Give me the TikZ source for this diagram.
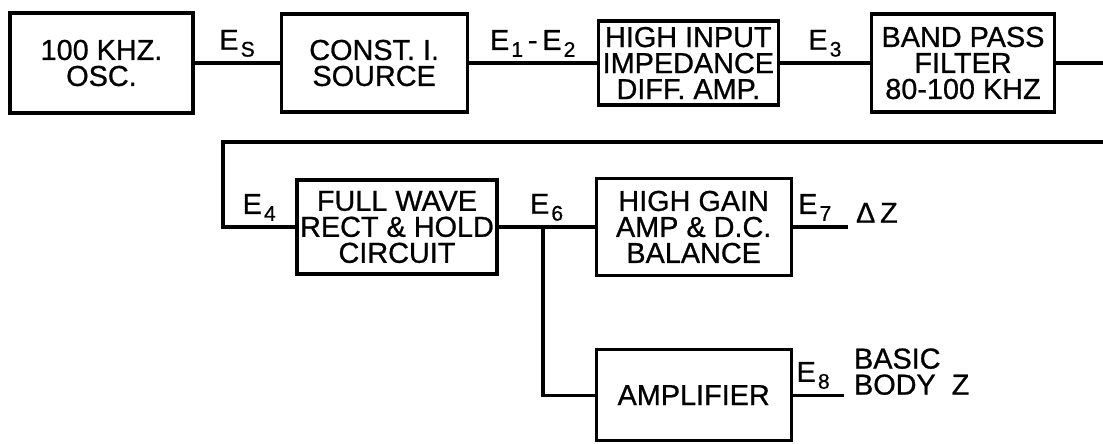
\documentclass[tikz,border=0pt]{standalone}
\usepackage{fontspec}
\setmainfont{Liberation Sans}[FakeBold=0.8]
\usetikzlibrary{positioning}
\newcommand{\lsub}[1]{\kern1.5pt\raisebox{-0.45ex}{\fontsize{15}{15}\selectfont #1}}

\begin{document}
\begin{tikzpicture}[
    x=0.025cm, y=-0.025cm,
    every node/.style={font=\fontsize{20.5}{18.5}\selectfont},
    blk/.style={rectangle, draw, line width=2.2pt, align=center, inner sep=1pt},
    wire/.style={line width=2.2pt},
]
    \useasboundingbox (0,0) rectangle (1103,444);
    % top row
    \node[blk, minimum width=45.75mm, minimum height=25mm] (osc) at (101.5,63)
        {100 KHZ.\\OSC.};
    \node[blk, minimum width=46.5mm, minimum height=24.5mm,
          right=21.25mm of osc] (src)
        {CONST. I.\\SOURCE};
    \node[blk, minimum width=45mm, minimum height=21mm,
          right=32mm of src] (diff)
        {HIGH INPUT\\IMPEDANCE\\DIFF. AMP.};
    \node[blk, minimum width=45.75mm, minimum height=24.5mm,
          right=22.5mm of diff] (bpf)
        {BAND PASS\\FILTER\\80-100 KHZ};
    \draw[wire] (osc) -- node[above]{E\lsub{S}} (src);
    \draw[wire] (src) -- node[above]{E\lsub{1}\,-\,E\lsub{2}} (diff);
    \draw[wire] (diff) -- node[above]{E\lsub{3}} (bpf);
    % return line
    \coordinate (r1) at (1103,63);
    \coordinate (r2) at (1103,142);
    \coordinate (r3) at (223,142);
    \draw[wire] (bpf) -- (r1);
    % second row
    \node[blk, minimum width=50mm, minimum height=23.5mm] (rect) at (397,227)
        {FULL WAVE\\RECT \& HOLD\\CIRCUIT};
    \node[blk, minimum width=48.75mm, minimum height=24.25mm,
          right=24mm of rect] (hgain)
        {HIGH GAIN\\AMP \& D.C.\\BALANCE};
    \node[blk, minimum width=48.75mm, minimum height=22.75mm,
          below=17.75mm of hgain] (amp)
        {AMPLIFIER};
    \draw[wire] (r2) -- (r3) |- node[pos=0.75, above]{E\lsub{4}} (rect.west);
    \draw[wire] (rect) -- node[above]{E\lsub{6}} (hgain);
    \coordinate (jn) at (543,227);
    \draw[wire] (jn) |- (amp.west);
    % outputs
    \coordinate[right=13.75mm of hgain.east] (o7);
    \coordinate[right=12.75mm of amp.east] (o8);
    \draw[wire] (hgain.east) -- node[above, pos=0.4]{E\lsub{7}} (o7);
    \draw[wire] (amp.east) -- node[above, pos=0.4]{E\lsub{8}} (o8);
    \node[inner sep=0, anchor=south west] (dz) at ([xshift=2mm, yshift=1mm]o7)
        {Δ\,Z};
    \node[inner sep=0, anchor=south west, align=left] (bz) at ([xshift=2.5mm]o8)
        {BASIC\\BODY\ \ Z};
\end{tikzpicture}
\end{document}
